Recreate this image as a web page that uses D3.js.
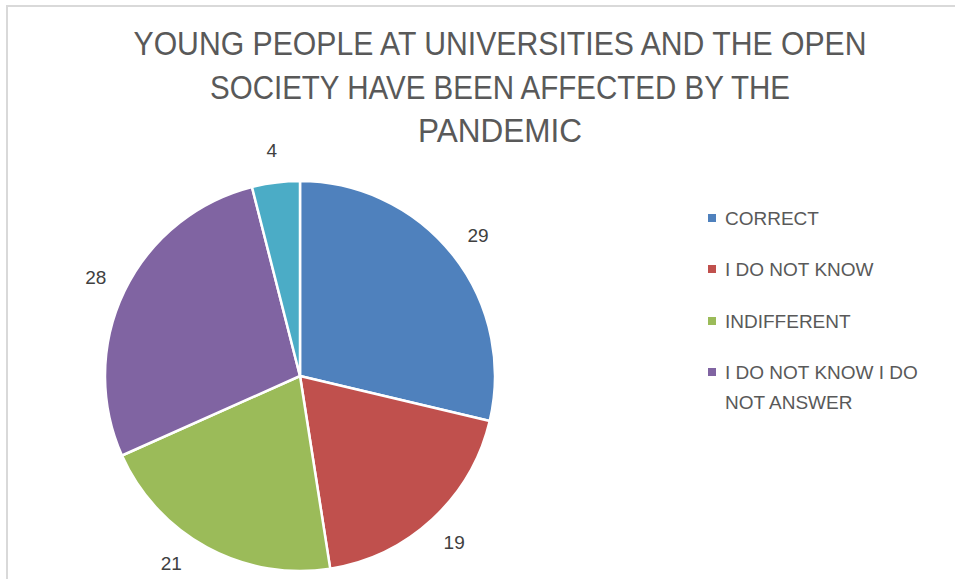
<!DOCTYPE html>
<html>
<head>
<meta charset="utf-8">
<script src="https://cdn.jsdelivr.net/npm/d3@7"></script>
<style>
  html, body { margin: 0; padding: 0; background: #fff; }
  svg { display: block; }
</style>
</head>
<body>
<svg id="chart" width="955" height="579"></svg>
<script>
const titleLines = ["YOUNG PEOPLE AT UNIVERSITIES AND THE OPEN", "SOCIETY HAVE BEEN AFFECTED BY THE", "PANDEMIC"];
const categories = ["CORRECT", "I DO NOT KNOW", "INDIFFERENT", "I DO NOT KNOW I DO NOT ANSWER", "OTHER"];
const values = [29, 19, 21, 28, 4];
const colors = ["#4F81BD", "#C0504D", "#9BBB59", "#8064A2", "#4BACC6"];
const legendShown = 4;

const svg = d3.select("#chart");
const W = 955, H = 579;

// frame
svg.append("path")
  .attr("d", `M7,${H + 5} L7,6 L${W + 5},6`)
  .attr("fill", "none").attr("stroke", "#d9d9d9").attr("stroke-width", 2);

// title
const titleWidths = [733, 580, 164];
const titleY = [55, 99, 142];
const fontStack = "'Liberation Sans', Arial, sans-serif";
titleLines.forEach((t, i) => {
  svg.append("text")
    .attr("x", 500).attr("y", titleY[i])
    .attr("text-anchor", "middle")
    .attr("font-family", fontStack)
    .attr("font-size", 33)
    .attr("fill", "#595959")
    .attr("textLength", titleWidths[i])
    .attr("lengthAdjust", "spacingAndGlyphs")
    .text(t);
});

// pie
const cx = 300, cy = 376, r = 195;
const data = values.map((v, i) => ({ name: categories[i], value: v, color: colors[i] }));
const pie = d3.pie().value(d => d.value).sort(null);
const arcs = pie(data);
const arc = d3.arc().innerRadius(0).outerRadius(r);
const labelR = 227;
const labelArc = d3.arc().innerRadius(labelR).outerRadius(labelR);

const g = svg.append("g").attr("transform", `translate(${cx},${cy})`);
g.selectAll("path.slice").data(arcs).enter().append("path")
  .attr("class", "slice")
  .attr("d", arc)
  .attr("fill", d => d.data.color)
  .attr("stroke", "#fff").attr("stroke-width", 2.5).attr("stroke-linejoin", "round");

const maxY = H - 16 - cy;
function labelPos(d) {
  let [x, y] = labelArc.centroid(d);
  if (y > maxY) {
    y = maxY;
    x = Math.sign(x) * Math.sqrt(labelR * labelR - y * y);
  }
  return [x, y];
}

g.selectAll("text.lbl").data(arcs).enter().append("text")
  .attr("class", "lbl")
  .attr("transform", d => `translate(${labelPos(d)})`)
  .attr("text-anchor", "middle")
  .attr("dominant-baseline", "central")
  .attr("font-family", fontStack)
  .attr("font-size", 19)
  .attr("fill", "#404040")
  .text(d => d.data.value);

// legend
const legY = [218, 269, 321, 372];
const leg = svg.append("g");
data.slice(0, legendShown).forEach((d, i) => {
  leg.append("rect")
    .attr("x", 708).attr("y", legY[i] - 4).attr("width", 8).attr("height", 8)
    .attr("fill", d.color);
  const words = d.name === "I DO NOT KNOW I DO NOT ANSWER" ? ["I DO NOT KNOW I DO", "NOT ANSWER"] : [d.name];
  words.forEach((w, j) => {
    leg.append("text")
      .attr("x", 725).attr("y", legY[i] + j * 30)
      .attr("dominant-baseline", "central")
      .attr("font-family", fontStack)
      .attr("font-size", 19)
      .attr("fill", "#595959")
      .text(w);
  });
});
</script>
</body>
</html>
